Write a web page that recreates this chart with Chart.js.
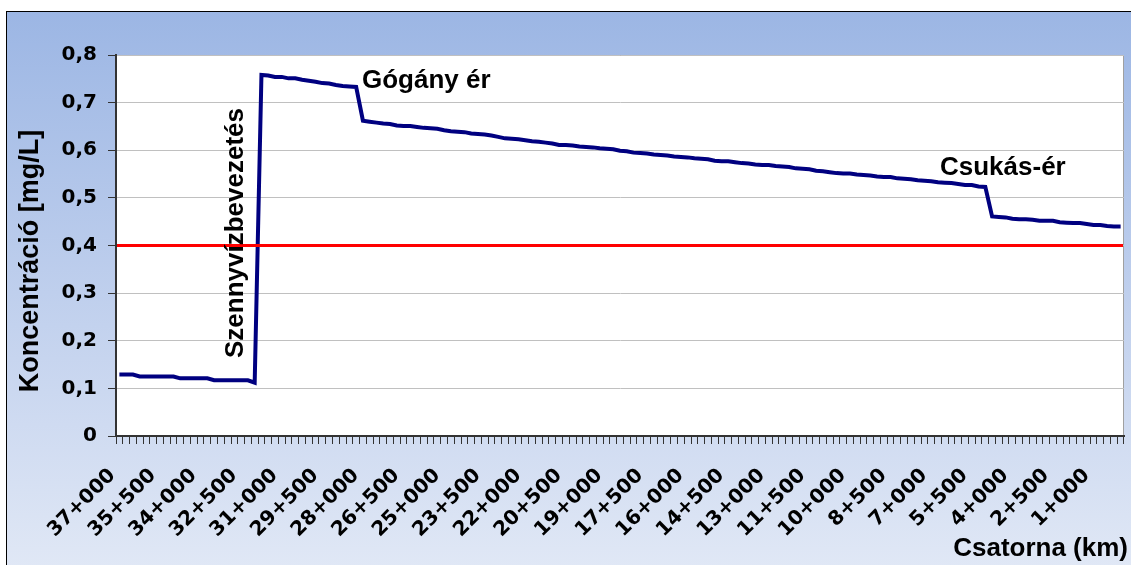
<!DOCTYPE html>
<html>
<head>
<meta charset="utf-8">
<script src="https://cdn.jsdelivr.net/npm/chart.js@4.4.1/dist/chart.umd.min.js"></script>
<style>
  html, body { margin: 0; padding: 0; background: #fff; overflow: hidden; }
  #frame {
    position: absolute; left: 6px; top: 11px; width: 1140px; height: 570px;
    border: 1px solid #000;
    background: linear-gradient(to bottom, #9cb6e4 0%, #c3d2ee 55%, #e2e9f6 100%);
  }
  #chart { position: absolute; left: 0; top: 0; }
</style>
</head>
<body>
<div id="frame"></div>
<canvas id="chart" width="1131" height="565"></canvas>
<script>
// Csatorna szelvények, 250 m-enként
const categories = [
  '37+000','36+750','36+500','36+250','36+000','35+750','35+500','35+250',
  '35+000','34+750','34+500','34+250','34+000','33+750','33+500','33+250',
  '33+000','32+750','32+500','32+250','32+000','31+750','31+500','31+250',
  '31+000','30+750','30+500','30+250','30+000','29+750','29+500','29+250',
  '29+000','28+750','28+500','28+250','28+000','27+750','27+500','27+250',
  '27+000','26+750','26+500','26+250','26+000','25+750','25+500','25+250',
  '25+000','24+750','24+500','24+250','24+000','23+750','23+500','23+250',
  '23+000','22+750','22+500','22+250','22+000','21+750','21+500','21+250',
  '21+000','20+750','20+500','20+250','20+000','19+750','19+500','19+250',
  '19+000','18+750','18+500','18+250','18+000','17+750','17+500','17+250',
  '17+000','16+750','16+500','16+250','16+000','15+750','15+500','15+250',
  '15+000','14+750','14+500','14+250','14+000','13+750','13+500','13+250',
  '13+000','12+750','12+500','12+250','12+000','11+750','11+500','11+250',
  '11+000','10+750','10+500','10+250','10+000','9+750','9+500','9+250',
  '9+000','8+750','8+500','8+250','8+000','7+750','7+500','7+250',
  '7+000','6+750','6+500','6+250','6+000','5+750','5+500','5+250',
  '5+000','4+750','4+500','4+250','4+000','3+750','3+500','3+250',
  '3+000','2+750','2+500','2+250','2+000','1+750','1+500','1+250',
  '1+000','0+750','0+500','0+250','0+000'
];

// Koncentráció [mg/L]
const concentration = [
  0.129,0.129,0.129,0.125,0.125,0.125,0.125,0.125,0.125,0.121,
  0.121,0.121,0.121,0.121,0.117,0.117,0.117,0.117,0.117,0.117,
  0.112,0.758,0.757,0.754,0.754,0.751,0.751,0.748,0.746,0.744,
  0.741,0.740,0.737,0.735,0.734,0.733,0.662,0.660,0.658,0.656,
  0.655,0.652,0.651,0.651,0.649,0.647,0.646,0.645,0.642,0.640,
  0.639,0.638,0.635,0.634,0.633,0.631,0.628,0.625,0.624,0.623,
  0.621,0.619,0.618,0.616,0.614,0.611,0.611,0.610,0.608,0.607,
  0.606,0.604,0.603,0.602,0.599,0.598,0.595,0.594,0.593,0.591,
  0.590,0.589,0.587,0.586,0.585,0.583,0.582,0.581,0.578,0.577,
  0.577,0.575,0.573,0.572,0.570,0.569,0.569,0.567,0.566,0.565,
  0.562,0.561,0.560,0.557,0.556,0.554,0.552,0.551,0.551,0.549,
  0.548,0.547,0.545,0.544,0.544,0.541,0.540,0.539,0.537,0.536,
  0.535,0.533,0.532,0.531,0.529,0.527,0.527,0.524,0.523,0.461,
  0.460,0.459,0.456,0.455,0.455,0.454,0.452,0.452,0.452,0.449,
  0.448,0.447,0.447,0.445,0.443,0.443,0.441,0.440,0.440
];

const limitValue = 0.4;   // határérték
const labelEvery = 6;     // minden 1,5 km-nél felirat
const yTicks = [0, 0.1, 0.2, 0.3, 0.4, 0.5, 0.6, 0.7, 0.8];

const notes = [
  { text: 'Szennyvízbevezetés', x: 243, y: 358, rotate: true },
  { text: 'Gógány ér', x: 362, y: 88 },
  { text: 'Csukás-ér', x: 940, y: 175 }
];

const plotBackground = {
  id: 'plotBackground',
  beforeDraw(chart) {
    const { ctx, chartArea: a } = chart;
    ctx.save();
    ctx.fillStyle = '#fff';
    ctx.fillRect(a.left, a.top, a.right - a.left, a.bottom - a.top);
    ctx.strokeStyle = '#a0a0a0';
    ctx.lineWidth = 1;
    ctx.strokeRect(a.left + 0.5, a.top + 0.5, a.right - a.left - 1, a.bottom - a.top);
    ctx.restore();
  }
};

const limitLine = {
  id: 'limitLine',
  afterDatasetsDraw(chart) {
    const { ctx, chartArea: a, scales } = chart;
    const y = scales.y.getPixelForValue(limitValue);
    ctx.save();
    ctx.strokeStyle = '#ff0000';
    ctx.lineWidth = 3;
    ctx.beginPath();
    ctx.moveTo(a.left + 1, y);
    ctx.lineTo(a.right - 1, y);
    ctx.stroke();
    ctx.restore();
  }
};

const textLabels = {
  id: 'textLabels',
  afterDraw(chart) {
    const ctx = chart.ctx;
    ctx.save();
    ctx.fillStyle = '#000';
    ctx.textBaseline = 'alphabetic';
    ctx.font = 'bold 26px "Liberation Sans", Arial, sans-serif';
    notes.forEach(n => {
      ctx.save();
      ctx.translate(n.x, n.y);
      if (n.rotate) ctx.rotate(-Math.PI / 2);
      ctx.textAlign = 'left';
      ctx.fillText(n.text, 0, 0);
      ctx.restore();
    });

    // y tengely címe
    ctx.save();
    ctx.font = 'bold 27px "Liberation Sans", Arial, sans-serif';
    ctx.translate(38, 261);
    ctx.rotate(-Math.PI / 2);
    ctx.textAlign = 'center';
    ctx.fillText('Koncentráció [mg/L]', 0, 0);
    ctx.restore();

    // x tengely címe
    ctx.font = 'bold 26px "Liberation Sans", Arial, sans-serif';
    ctx.textAlign = 'right';
    ctx.fillText('Csatorna (km)', 1128, 556);
    ctx.restore();
  }
};

new Chart(document.getElementById('chart'), {
  type: 'line',
  data: {
    labels: categories,
    datasets: [{
      label: 'Koncentráció',
      data: concentration,
      borderColor: '#000080',
      borderWidth: 4,
      pointRadius: 0,
      tension: 0,
      fill: false
    }]
  },
  options: {
    responsive: false,
    animation: false,
    devicePixelRatio: 1,
    layout: { padding: { top: 55, right: 7, left: 0, bottom: 0 } },
    plugins: {
      legend: { display: false },
      tooltip: { enabled: false }
    },
    scales: {
      x: {
        type: 'category',
        offset: true,
        grid: { offset: true, drawOnChartArea: false, tickLength: 8, tickColor: '#333', lineWidth: 1 },
        border: { color: '#333', width: 2 },
        ticks: {
          autoSkip: false,
          minRotation: 45,
          maxRotation: 45,
          padding: 20,
          labelOffset: -7,
          color: '#000',
          font: { family: 'DejaVu Sans', weight: 'bold', size: 20 },
          callback: (v, i) => (i % labelEvery === 0 ? categories[i] : '')
        },
        afterFit: s => {
          s.height = 129;
          s.paddingLeft = 0;
          s.paddingRight = 0;
        }
      },
      y: {
        min: 0,
        max: 0.8,
        afterBuildTicks: s => { s.ticks = yTicks.map(v => ({ value: v })); },
        grid: { color: '#c0c0c0', tickColor: '#333', tickLength: 8, lineWidth: 1 },
        border: { color: '#333', width: 2 },
        ticks: {
          padding: 11,
          color: '#000',
          font: { family: 'DejaVu Sans', weight: 'bold', size: 20 },
          callback: v => (v === 0 ? '0' : v.toFixed(1).replace('.', ','))
        },
        afterFit: s => { s.width = 116; }
      }
    }
  },
  plugins: [plotBackground, limitLine, textLabels]
});
</script>
</body>
</html>
